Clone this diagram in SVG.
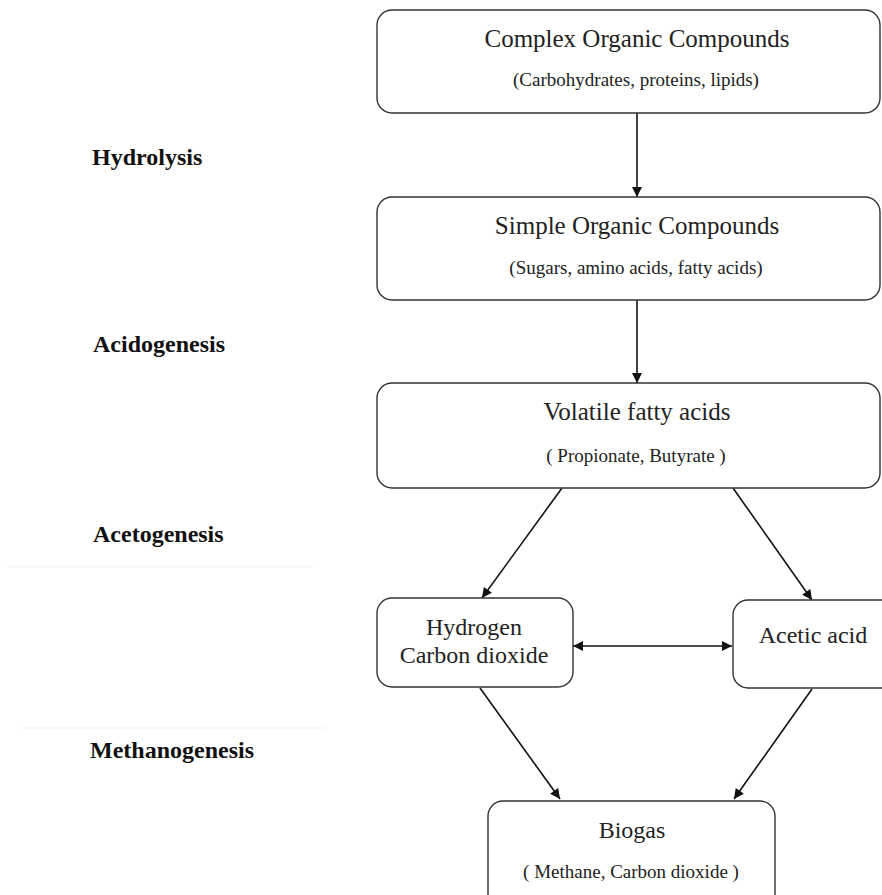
<svg xmlns="http://www.w3.org/2000/svg" width="882" height="895" viewBox="0 0 882 895">
<defs>
<marker id="ah" viewBox="0 0 10 10" refX="10" refY="5" markerWidth="11" markerHeight="10" markerUnits="userSpaceOnUse" orient="auto-start-reverse">
<path d="M0,0 L10,5 L0,10 z" fill="#111"/>
</marker>
<style>
.box{fill:#fff;stroke:#333;stroke-width:1.4}
.t{font-family:"Liberation Serif","Times New Roman",serif;fill:#222;text-anchor:middle}
.big{font-size:25px}
.mid{font-size:24px}
.small{font-size:19px}
.lab{font-family:"Liberation Serif","Times New Roman",serif;font-size:24px;font-weight:bold;fill:#111}
.c{stroke:#111;stroke-width:1.6;fill:none;marker-end:url(#ah)}
.faint{stroke:#f6f6f6;stroke-width:1.5}
</style>
</defs>
<rect width="882" height="895" fill="#fff"/>
<g id="faint-lines">
<line class="faint" x1="7" y1="567" x2="313" y2="567"/>
<line class="faint" x1="20" y1="728" x2="325" y2="728"/>
</g>
<g id="labels">
<text class="lab" x="92" y="165">Hydrolysis</text>
<text class="lab" x="93" y="352">Acidogenesis</text>
<text class="lab" x="93" y="542">Acetogenesis</text>
<text class="lab" x="90" y="758">Methanogenesis</text>
</g>
<g id="connectors">
<line class="c" x1="637" y1="113" x2="637" y2="197"/>
<line class="c" x1="637" y1="300" x2="637" y2="383"/>
<line class="c" x1="562" y1="488" x2="482" y2="598"/>
<line class="c" x1="733" y1="488" x2="812" y2="600"/>
<line class="c" x1="480" y1="688" x2="560" y2="799"/>
<line class="c" x1="812" y1="689" x2="734" y2="799"/>
<line class="c" x1="573" y1="646" x2="732" y2="646" marker-start="url(#ah)"/>
</g>
<g id="complex">
<rect class="box" x="377" y="10" width="503" height="103" rx="15"/>
<text class="t big" x="637" y="47">Complex Organic Compounds</text>
<text class="t small" x="636" y="86">(Carbohydrates, proteins, lipids)</text>
</g>
<g id="simple">
<rect class="box" x="377" y="197" width="503" height="103" rx="15"/>
<text class="t big" x="637" y="234">Simple Organic Compounds</text>
<text class="t small" x="636" y="274">(Sugars, amino acids, fatty acids)</text>
</g>
<g id="vfa">
<rect class="box" x="377" y="383" width="503" height="105" rx="15"/>
<text class="t big" x="637" y="420">Volatile fatty acids</text>
<text class="t small" x="636" y="462">( Propionate, Butyrate )</text>
</g>
<g id="hydrogen">
<rect class="box" x="377" y="598" width="196" height="89" rx="15"/>
<text class="t mid" x="474" y="635">Hydrogen</text>
<text class="t mid" x="474" y="663">Carbon dioxide</text>
</g>
<g id="acetic">
<rect class="box" x="733" y="600" width="170" height="88" rx="15"/>
<text class="t mid" x="813" y="643">Acetic acid</text>
</g>
<g id="biogas">
<rect class="box" x="488" y="801" width="287" height="110" rx="15"/>
<text class="t mid" x="632" y="838">Biogas</text>
<text class="t small" x="631" y="878">( Methane, Carbon dioxide )</text>
</g>
</svg>
